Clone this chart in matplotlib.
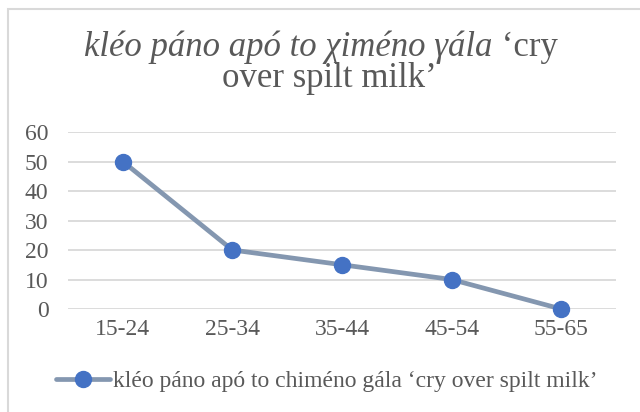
import matplotlib
matplotlib.use("Agg")
import matplotlib.pyplot as plt
from matplotlib.patches import Rectangle

plt.rcParams['font.family'] = ['Liberation Serif', 'DejaVu Serif']

age_groups = ["15-24", "25-34", "35-44", "45-54", "55-65"]
values = [50, 20, 15, 10, 0]
series_label = "kléo páno apó to chiméno gála \u2018cry over spilt milk\u2019"
title_italic = "kléo páno apó to χiméno γála"
title_rest_1 = " \u2018cry"
title_line_2 = "over spilt milk\u2019"

text_col = "#595959"

fig = plt.figure(figsize=(6.4, 4.12), dpi=100)
ax = fig.add_axes([68 / 640, 1 - 309 / 412, (616 - 68) / 640, (309 - 132) / 412])

x = range(len(age_groups))
ax.plot(x, values, color="#8497B0", lw=3.4, marker="o", ms=11.5,
        mfc="#4472C4", mec="#4472C4", label=series_label, zorder=3,
        solid_capstyle="round", clip_on=False)

ax.set_xlim(-0.5, len(age_groups) - 0.5)
ax.set_ylim(0, 60)
ax.set_yticks(range(0, 61, 10))
ax.set_xticks(list(x))
ax.set_xticklabels(age_groups)
ax.grid(axis="y", color="#D9D9D9", lw=1.3)
ax.set_axisbelow(True)
for s in ax.spines.values():
    s.set_visible(False)
ax.tick_params(length=0, labelsize=17, labelcolor=text_col)
ax.tick_params(axis="y", pad=14)
ax.tick_params(axis="x", pad=7)

# title: italic part + upright part on line 1, upright line 2
fs_title = 25
fig.canvas.draw()
r = fig.canvas.get_renderer()
t1 = fig.text(0, 0, title_italic, fontsize=fs_title, style="italic", color=text_col)
t2 = fig.text(0, 0, title_rest_1, fontsize=fs_title, color=text_col)
w1 = t1.get_window_extent(r).width
w2 = t2.get_window_extent(r).width
x0 = (321 - (w1 + w2) / 2) / 640
t1.set_position((x0, 1 - 56 / 412))
t2.set_position((x0 + w1 / 640, 1 - 56 / 412))
fig.text(329 / 640, 1 - 87 / 412, title_line_2, fontsize=fs_title, color=text_col, ha="center")

fig.legend(loc="center", bbox_to_anchor=(327 / 640, 1 - 381 / 412), frameon=False,
           fontsize=17, labelcolor=text_col, handlelength=2.3, handletextpad=0.12)

fig.patches.append(Rectangle((8 / 640, -0.1), 1.1, 1 - 9 / 412 + 0.1, transform=fig.transFigure,
                             fill=False, ec="#D9D9D9", lw=1.5))

fig.savefig("out.png", dpi=100)
